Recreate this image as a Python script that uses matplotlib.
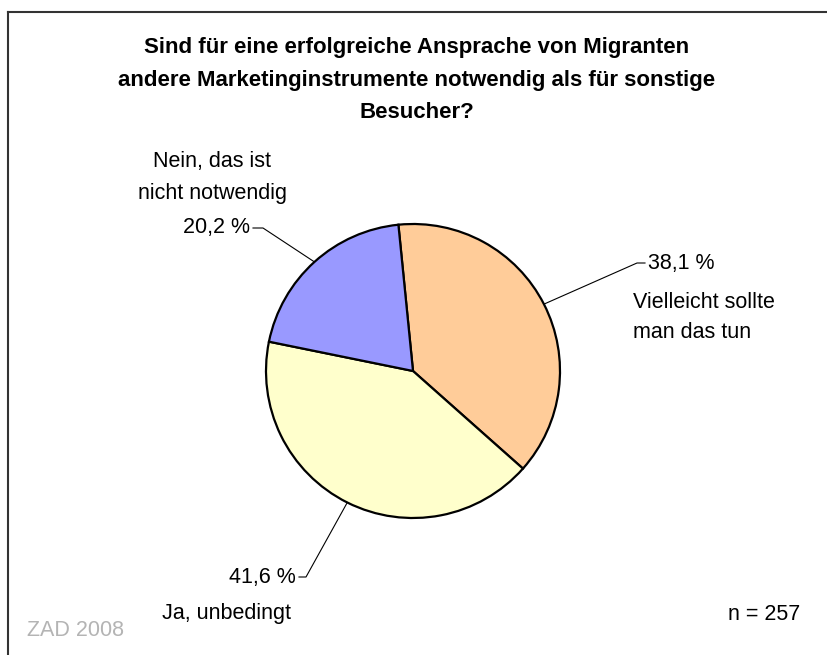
import matplotlib.pyplot as plt
import numpy as np

plt.rcParams['font.family'] = ['Liberation Sans', 'DejaVu Sans']

title_lines = ["Sind für eine erfolgreiche Ansprache von Migranten",
               "andere Marketinginstrumente notwendig als für sonstige",
               "Besucher?"]
answers = [["Vielleicht sollte", "man das tun"],
           ["Ja, unbedingt"],
           ["Nein, das ist", "nicht notwendig"]]
shares = [38.1, 41.6, 20.2]
colors = ['#FFCC99', '#FFFFCC', '#9999FF']
n_total = 257
source = "ZAD 2008"

fig = plt.figure(figsize=(8.27, 6.55), dpi=100)
ax = fig.add_axes([0, 0, 1, 1])

# pixel-like coordinates, y pointing down
cx, cy, r = 413, 371, 147
wedges, _ = ax.pie(shares, colors=colors, startangle=-95.7, counterclock=True,
                   center=(cx, cy), radius=r,
                   wedgeprops=dict(edgecolor='black', linewidth=1.6))
ax.set_xlim(0, 827)
ax.set_ylim(655, 0)
ax.set_aspect('auto')
ax.axis('off')

# frame (top and left edge only visible)
ax.plot([8, 827], [12, 12], color='#333333', lw=1.5, clip_on=False)
ax.plot([8, 8], [12, 655], color='#333333', lw=1.5, clip_on=False)

for i, line in enumerate(title_lines):
    ax.text(417, 48 + i * 32.5, line, ha='center', va='center',
            fontsize=16, fontweight='bold')

# label layout: elbow, line end, text side, answer anchor
layout = [
    dict(elbow=(637, 263), end=(645, 263), ha='left', ans=(633, 302), ans_ha='left'),
    dict(elbow=(306, 577), end=(299, 577), ha='right', ans=(227, 614), ans_ha='center'),
    dict(elbow=(263, 228), end=(253, 228), ha='right', ans=(212, 162), ans_ha='center'),
]

for w, val, ans, lay in zip(wedges, shares, answers, layout):
    mid = np.deg2rad((w.theta1 + w.theta2) / 2)
    px, py = cx + r * np.cos(mid), cy + r * np.sin(mid)
    ex, ey = lay['elbow']
    fx, fy = lay['end']
    ax.plot([px, ex, fx], [py, ey, fy], color='black', lw=0.8)
    tx = fx + 3 if lay['ha'] == 'left' else fx - 3
    ax.text(tx, fy, f"{val:.1f} %".replace('.', ','), ha=lay['ha'], va='center',
            fontsize=15.5)
    for j, line in enumerate(ans):
        ax.text(lay['ans'][0], lay['ans'][1] + j * 31, line, ha=lay['ans_ha'],
                va='center', fontsize=15.5)

ax.text(800, 614, f"n = {n_total}", ha='right', va='center', fontsize=15.5)
ax.text(27, 631, source, ha='left', va='center', fontsize=15.5, color='#b4b4b4')

fig.savefig('out.png', dpi=100)
